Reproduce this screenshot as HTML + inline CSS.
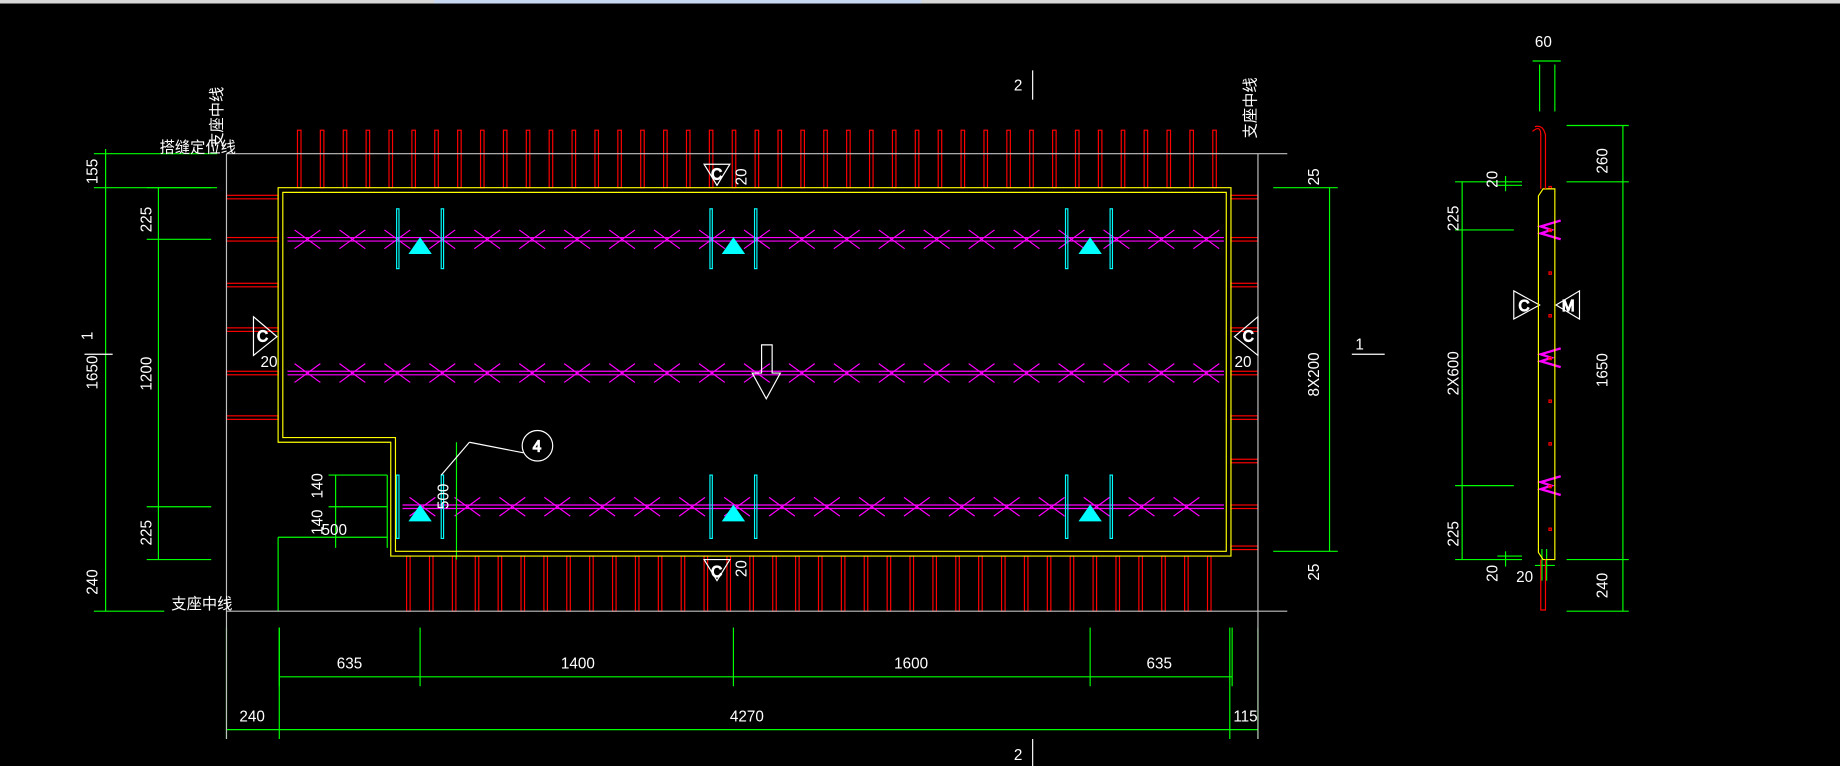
<!DOCTYPE html>
<html><head><meta charset="utf-8"><style>
html,body{margin:0;padding:0;background:#000;width:1840px;height:766px;overflow:hidden}
svg{display:block}
text{font-family:"Liberation Sans","Noto Sans CJK SC",sans-serif;fill:#fff;font-size:13px}
</style></head><body>
<svg id="s" width="1840" height="766" viewBox="0 0 1568 653" preserveAspectRatio="none" xmlns="http://www.w3.org/2000/svg">
<rect x="0" y="0" width="1568" height="653" fill="#000"/>
<rect x="0" y="0" width="1568" height="3" fill="#d8d8d8"/>
<rect x="370" y="0" width="415" height="3" fill="#c8d8f0"/>
<g id="g" fill="none" stroke-width="1"></g>
<g stroke="#c0c0c0" fill="none">
<line x1="193" y1="131" x2="1097" y2="131"/>
<line x1="193" y1="521" x2="1097" y2="521"/>
<line x1="193" y1="131" x2="193" y2="630"/>
<line x1="1072" y1="131" x2="1072" y2="630"/>
</g>
<g stroke="#ffff00" fill="none">
<polygon points="237,160 1049,160 1049,474 333,474 333,377 237,377"/>
<polygon points="241,164 1045,164 1045,470 337,470 337,373 241,373"/>
</g>
<text x="136" y="130" font-size="11" fill="#ddd">搭缝定位线</text>
<text x="146" y="519" font-size="11" fill="#ddd">支座中线</text>
<text transform="translate(189,126) rotate(-90)" font-size="11" fill="#ddd">支座中线</text>
<text transform="translate(1070,118) rotate(-90)" font-size="11" fill="#ddd">支座中线</text>
<text x="864" y="77">2</text><line x1="880" y1="60" x2="880" y2="85" stroke="#fff"/>
<text x="864" y="648">2</text><line x1="880" y1="630" x2="880" y2="653" stroke="#fff"/>
<text transform="translate(79,290) rotate(-90)">1</text><line x1="72" y1="302" x2="96" y2="302" stroke="#fff"/>
<text x="1155" y="298">1</text><line x1="1152" y1="302" x2="1180" y2="302" stroke="#fff"/>
<g font-size="11">
<text transform="translate(83,157) rotate(-90)">155</text>
<text transform="translate(83,332) rotate(-90)">1650</text>
<text transform="translate(83,507) rotate(-90)">240</text>
<text transform="translate(129,198) rotate(-90)">225</text>
<text transform="translate(129,333) rotate(-90)">1200</text>
<text transform="translate(129,465) rotate(-90)">225</text>
<text transform="translate(1124,158) rotate(-90)">25</text>
<text transform="translate(1124,338) rotate(-90)">8X200</text>
<text transform="translate(1124,495) rotate(-90)">25</text>
<text x="287" y="570">635</text><text x="478" y="570">1400</text>
<text x="762" y="570">1600</text><text x="977" y="570">635</text>
<text x="204" y="615">240</text><text x="622" y="615">4270</text><text x="1051" y="615">115</text>
<text x="222" y="313">20</text><text x="1052" y="313">20</text>
<text transform="translate(636,158) rotate(-90)">20</text>
<text transform="translate(636,492) rotate(-90)">20</text>
<text transform="translate(275,425) rotate(-90)">140</text>
<text transform="translate(275,456) rotate(-90)">140</text>
<text x="274" y="456">500</text>
<text transform="translate(382,434) rotate(-90)">500</text>
<text x="1308" y="40">60</text>
<text transform="translate(1370,148) rotate(-90)">260</text>
<text transform="translate(1370,330) rotate(-90)">1650</text>
<text transform="translate(1370,510) rotate(-90)">240</text>
<text transform="translate(1243,197) rotate(-90)">225</text>
<text transform="translate(1243,337) rotate(-90)">2X600</text>
<text transform="translate(1243,466) rotate(-90)">225</text>
<text transform="translate(1276,160) rotate(-90)">20</text>
<text transform="translate(1276,496) rotate(-90)">20</text>
<text x="1292" y="496">20</text>
</g>
<g stroke="#fff" fill="none">
<polygon points="600,140 622,140 611,158"/><text x="606" y="153" font-size="11">C</text>
<polygon points="600,477 622,477 611,495"/><text x="606" y="492" font-size="11">C</text>
<polygon points="216,270 216,303 236,287"/><text x="219" y="291" font-size="11">C</text>
<polygon points="1072,270 1072,303 1052,287"/><text x="1059" y="291" font-size="11">C</text>
<polygon points="1290,248 1290,272 1312,260"/><text x="1294" y="265" font-size="11">C</text>
<polygon points="1346,248 1346,272 1326,260"/><text x="1331" y="265" font-size="11">M</text>
<circle cx="458" cy="380" r="13"/><text x="454" y="385" font-size="12">4</text>
<line x1="446" y1="386" x2="400" y2="377"/><line x1="400" y1="377" x2="376" y2="405"/>
<polygon points="649,294 658,294 658,318 665,318 653,340 641,318 649,318"/>
</g>
<g fill="none">
<polygon points="1311,167 1315,161 1325,161 1325,477 1315,477 1311,471" stroke="#ffff00"/>
<path d="M1313,161 V115 Q1313,106 1306,112 M1317,161 V115 Q1315,106 1308,108" stroke="#ff0000"/>
<path d="M1313,477 V520 H1317 V477" stroke="#ff0000"/>
</g>
</svg>
<script>
var g=document.getElementById('g'),ns='http://www.w3.org/2000/svg';
function L(x1,y1,x2,y2,c){var e=document.createElementNS(ns,'line');e.setAttribute('x1',x1);e.setAttribute('y1',y1);e.setAttribute('x2',x2);e.setAttribute('y2',y2);e.setAttribute('stroke',c);g.appendChild(e);}
function R(x,y,w,h,c,f){var e=document.createElementNS(ns,'rect');e.setAttribute('x',x);e.setAttribute('y',y);e.setAttribute('width',w);e.setAttribute('height',h);e.setAttribute('stroke',c);if(f){e.setAttribute('fill',f)}g.appendChild(e);}
function P(pts,c,f){var e=document.createElementNS(ns,'polygon');e.setAttribute('points',pts);e.setAttribute('stroke',c);e.setAttribute('fill',f||'none');g.appendChild(e);}
var red='#ff0000',mag='#ff00ff',cy='#00ffff',gr='#00ff00';
for(var x=255;x<=1035;x+=19.5)R(x-1.5,111,3,49,red);
for(var x=348;x<=1035;x+=19.5)R(x-1.5,474,3,47,red);
[168,204,243,281,318,356].forEach(function(y){R(193,y-1.5,44,3,red)});
[168,204,243,281,318,356,393,432,467].forEach(function(y){R(1049,y-1.5,23,3,red)});
[[204,245],[318,245],[432,343]].forEach(function(a){var y=a[0];L(a[1],y-1.5,1043,y-1.5,mag);L(a[1],y+1.5,1043,y+1.5,mag);
 for(var x=a[1]+17;x<1043;x+=38.3){L(x-11,y-8,x+11,y+8,mag);L(x-11,y+8,x+11,y-8,mag);}});
[[339,377],[606,644],[909,947]].forEach(function(p){p.forEach(function(x){R(x-1,178,2,51,cy);R(x-1,405,2,54,cy)});});
[358,625,929].forEach(function(x){P((x-9)+',216 '+(x+9)+',216 '+x+',203',cy,cy);P((x-9)+',444 '+(x+9)+',444 '+x+',431',cy,cy);});
L(90,127,90,521,gr);L(135,160,135,477,gr);
[131,160].forEach(function(y){L(80,y,185,y,gr)});L(80,521,140,521,gr);
[160,204,432,477].forEach(function(y){L(125,y,180,y,gr)});
L(1133,160,1133,470,gr);L(1085,160,1140,160,gr);L(1085,470,1140,470,gr);
L(238,577,1050,577,gr);[238,358,625,929,1050].forEach(function(x){L(x,535,x,585,gr)});
L(193,622,1072,622,gr);[193,238,1048,1072].forEach(function(x){L(x,535,x,630,gr)});
L(286,405,286,467,gr);L(280,405,330,405,gr);L(280,432,330,432,gr);L(237,458,330,458,gr);L(237,458,237,521,gr);
L(389,377,389,477,gr);L(330,405,330,467,gr);
L(1312,55,1312,95,gr);L(1325,55,1325,95,gr);L(1306,52,1330,52,gr);
L(1383,107,1383,521,gr);[107,155,477,521].forEach(function(y){L(1335,y,1388,y,gr)});
L(1246,155,1246,477,gr);[155,477].forEach(function(y){L(1240,y,1297,y,gr)});[196,414].forEach(function(y){L(1240,y,1290,y,gr)});
L(1283,150,1283,163,gr);L(1276,158,1297,158,gr);L(1283,470,1283,483,gr);L(1276,474,1297,474,gr);
L(1314,468,1314,495,gr);L(1318,468,1318,495,gr);L(1308,482,1325,482,gr);
[196,305,414].forEach(function(y){var e=document.createElementNS(ns,'path');e.setAttribute('d','M1330,'+(y-8)+' L1313,'+(y-3)+' L1322,'+y+' L1313,'+(y+3)+' L1330,'+(y+8));e.setAttribute('stroke',mag);e.setAttribute('stroke-width','2');e.setAttribute('fill','none');g.appendChild(e);});
for(var y=160;y<=475;y+=36.4){R(1320,y-1,2,2,red)}
</script>
</body></html>
